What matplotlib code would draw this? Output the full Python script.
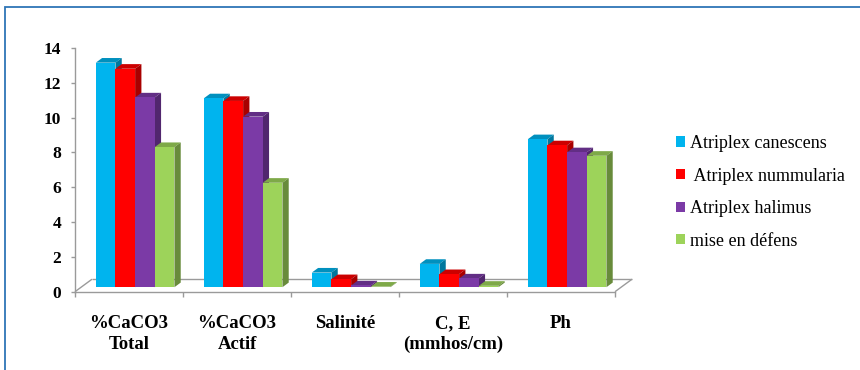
import matplotlib
matplotlib.use("Agg")
import matplotlib.pyplot as plt
from matplotlib.patches import Rectangle, Polygon, Patch
from matplotlib.colors import to_rgb
import numpy as np

# ---- data ----
categories = ["%CaCO3\nTotal", "%CaCO3\nActif", "Salinité", "C, E\n(mmhos/cm)", "Ph"]
series_names = ["Atriplex canescens", " Atriplex nummularia", "Atriplex halimus", "mise en défens"]
canescens = [12.9, 10.85, 0.84, 1.34, 8.5]
nummularia = [12.55, 10.7, 0.46, 0.75, 8.15]
halimus = [10.9, 9.8, 0.10, 0.50, 7.75]
defens = [8.05, 6.0, 0.03, 0.08, 7.55]
series_values = [canescens, nummularia, halimus, defens]
y_ticks = [0, 2, 4, 6, 8, 10, 12, 14]

colors = ["#00B4EE", "#FF0000", "#7B3AA6", "#9DD35A"]

serif = ["Liberation Serif", "DejaVu Serif"]
plt.rcParams["font.family"] = serif

W_PX, H_PX, DPI = 860, 370, 100
fig = plt.figure(figsize=(W_PX / DPI, H_PX / DPI), dpi=DPI)

# outer frame
fig.patches.append(Rectangle((5 / W_PX, 0 - 0.05), 1.2, 1 - 7 / H_PX + 0.05,
                             transform=fig.transFigure, fill=False,
                             edgecolor="#2E75B6", linewidth=1.3))

ax_l, ax_r, ax_b, ax_t = 75, 615, 291.7, 48
ax = fig.add_axes([ax_l / W_PX, (H_PX - ax_b) / H_PX,
                   (ax_r - ax_l) / W_PX, (ax_b - ax_t) / H_PX])
n_cat = len(categories)
ax.set_xlim(-0.5, n_cat - 0.5)
ax.set_ylim(0, 14)

# pixel -> data conversion for the oblique depth
px_x = (ax_r - ax_l) / n_cat
px_y = (ax_b - ax_t) / 14.0
floor_dx, floor_dy = 17 / px_x, 12.5 / px_y
front_frac, depth_frac = 0.36, 0.37
off_x, off_y = floor_dx * front_frac, floor_dy * front_frac
bdx, bdy = floor_dx * depth_frac, floor_dy * depth_frac

grey = "#9A9A9A"

# floor of the pseudo-3D plot
x0f, x1f = -0.5, n_cat - 0.5
for xs, ys in [([x0f + floor_dx, x1f + floor_dx], [floor_dy, floor_dy]),
               ([x0f, x0f + floor_dx], [0, floor_dy]),
               ([x1f, x1f + floor_dx], [0, floor_dy])]:
    ax.plot(xs, ys, color=grey, lw=1.0, zorder=0.5, clip_on=False,
            solid_capstyle="butt")


def shade(c, f):
    r, g, b = to_rgb(c)
    return (r * f, g * f, b * f)


bw = 0.182
n_ser = len(series_values)
x = np.arange(n_cat)
for i in range(n_cat):
    for j in range(n_ser):
        v = series_values[j][i]
        c = colors[j]
        xl = x[i] - n_ser * bw / 2 + j * bw + off_x
        yb = off_y
        top = Polygon([(xl, yb + v), (xl + bw, yb + v),
                       (xl + bw + bdx, yb + v + bdy), (xl + bdx, yb + v + bdy)],
                      closed=True, facecolor=shade(c, 0.80), edgecolor="none",
                      zorder=2, clip_on=False)
        side = Polygon([(xl + bw, yb), (xl + bw, yb + v),
                        (xl + bw + bdx, yb + v + bdy), (xl + bw + bdx, yb + bdy)],
                       closed=True, facecolor=shade(c, 0.66), edgecolor="none",
                       zorder=2, clip_on=False)
        ax.add_patch(top)
        ax.add_patch(side)
        ax.bar(xl, v, width=bw, bottom=yb, align="edge", color=c,
               edgecolor="none", zorder=2, clip_on=False)

# axes styling
for s in ["top", "right"]:
    ax.spines[s].set_visible(False)
for s in ["left", "bottom"]:
    ax.spines[s].set_color(grey)
    ax.spines[s].set_linewidth(1.0)

ax.set_yticks(y_ticks)
ax.set_yticklabels([str(t) for t in y_ticks], fontsize=12.5, fontweight="bold")
ax.tick_params(axis="y", direction="out", length=3, width=1, color=grey, pad=7)

ax.set_xticks(x)
ax.set_xticklabels(categories, fontsize=13.5, fontweight="bold", linespacing=1.25,
                   va="top")
ax.set_xticks(np.arange(n_cat + 1) - 0.5, minor=True)
ax.tick_params(axis="x", which="major", length=0, pad=17)
ax.tick_params(axis="x", which="minor", direction="out", length=3.6, width=1,
               color=grey)
ax.patch.set_alpha(0)

handles = [Patch(facecolor=c, edgecolor="none") for c in colors]
fig.legend(handles, series_names, loc="upper left",
           bbox_to_anchor=(676 / W_PX, 1 - 135 / H_PX),
           frameon=False, fontsize=13, handlelength=0.5, handleheight=0.5,
           handletextpad=0.25, labelspacing=0.86, borderaxespad=0, borderpad=0)

fig.savefig("out.png", dpi=DPI)
